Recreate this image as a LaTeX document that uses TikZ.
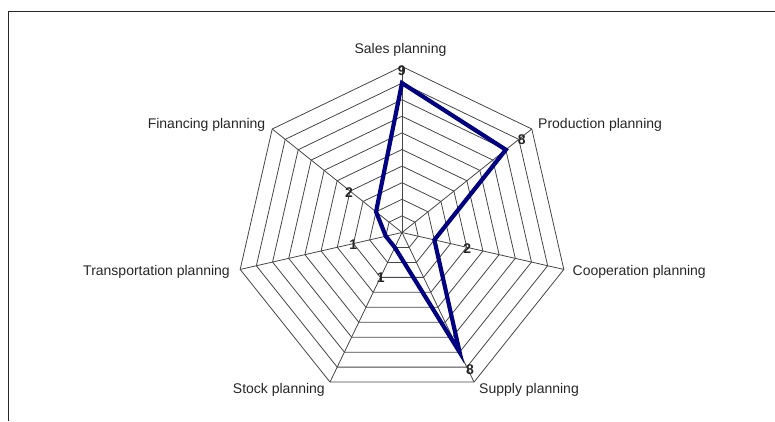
\documentclass[tikz,border=0pt]{standalone}
\usepackage{fontspec}
\setmainfont{Liberation Sans}
\definecolor{navy}{RGB}{0,0,128}
\definecolor{gridgray}{RGB}{70,70,70}
\begin{document}
\begin{tikzpicture}[x=1bp,y=-1bp,
  gridline/.style={draw=gridgray, line width=0.8bp},
  datapoly/.style={draw=navy, line width=4.2bp, line join=miter},
  axlabel/.style={font=\fontsize{14bp}{16bp}\selectfont, inner sep=0pt, text=black!85},
  vallabel/.style={font=\fontsize{14bp}{16bp}\selectfont\bfseries, inner sep=0pt, text=black!85}]
\useasboundingbox (0,0) rectangle (775,421);
\draw[black!85, line width=1.3bp] (8.5,421) -- (8.5,11.5) -- (775,11.5);
\begin{scope}[shift={(402,232.5)}]
  \coordinate (O) at (0,0);
  \foreach \k in {1,...,10}{
    \draw[gridline] (-90:{\k*16.6}) \foreach \j in {1,...,6}{ -- ({-90+\j*360/7}:{\k*16.6})} -- cycle;
  }
  \foreach \j in {0,...,6}{
    \draw[gridline] (O) -- ({-90+\j*360/7}:166);
  }
  \coordinate (dS) at (-90:149.4);
  \coordinate (dP) at (-38.571:132.8);
  \coordinate (dC) at (12.857:33.2);
  \coordinate (dU) at (64.286:132.8);
  \coordinate (dK) at (115.714:16.6);
  \coordinate (dT) at (167.143:16.6);
  \coordinate (dF) at (218.571:33.2);
  \draw[datapoly] (dS) -- (dP) -- (dC) -- (dU) -- (dK) -- (dT) -- (dF) -- cycle;
\end{scope}
\node[axlabel] (lS) at (400.5,50) {Sales planning};
\node[axlabel, anchor=west] (lP) at (538,125) {Production planning};
\node[axlabel, anchor=west] (lC) at (572.5,271.5) {Cooperation planning};
\node[axlabel, anchor=west] (lU) at (479,390) {Supply planning};
\node[axlabel, anchor=east] (lK) at (325,390) {Stock planning};
\node[axlabel, anchor=east] (lT) at (230,271.5) {Transportation planning};
\node[axlabel, anchor=east] (lF) at (265.5,125) {Financing planning};
\node[vallabel] (vS) at (401.7,70.7) {9};
\node[vallabel] (vP) at (521.7,139.3) {8};
\node[vallabel] (vC) at (467.3,248.3) {2};
\node[vallabel] (vU) at (470,369.3) {8};
\node[vallabel] (vK) at (380.7,277.3) {1};
\node[vallabel] (vT) at (353.3,245) {1};
\node[vallabel] (vF) at (349,192.7) {2};
\end{tikzpicture}
\end{document}
